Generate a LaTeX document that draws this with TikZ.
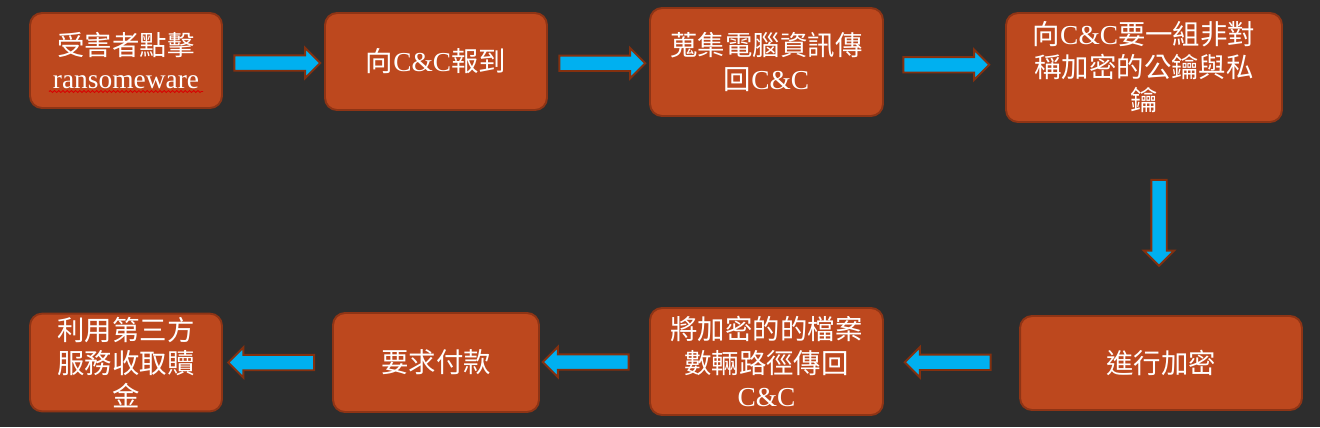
\documentclass[tikz,border=0pt]{standalone}
\usepackage{fontspec}
\setmainfont{Liberation Serif}
\newfontfamily\cjk{Noto Sans CJK TC}
\usepackage{xcolor}
\usepackage{tikz}
\usetikzlibrary{positioning, calc, shapes.arrows, decorations.pathmorphing}

\definecolor{bgdark}{HTML}{2D2D2D}
\definecolor{boxfill}{HTML}{BD481E}
\definecolor{boxline}{HTML}{8E3415}
\definecolor{arrowfill}{HTML}{00B0F0}
\definecolor{arrowline}{HTML}{84300F}

\begin{document}
\begin{tikzpicture}[
        x=0.02cm, y=-0.02cm,
        stepbox/.style={draw=boxline, fill=boxfill, line width=1.1pt, rounded corners=0.24cm, text=white, align=center, inner sep=2pt, font=\fontsize{15.6}{18.8}\selectfont},
        flow/.style={single arrow, draw=arrowline, fill=arrowfill, line width=1.1pt, inner sep=0.135cm, single arrow head extend=0.15cm, minimum height=1.72cm, shape border rotate=#1},
        flow/.default=0,
    ]
    \useasboundingbox (0,0) rectangle (1320,427);
    \fill[bgdark] (0,0) rectangle (1320,427);

    % ---- top row ----
    \node[stepbox, minimum width=3.84cm, minimum height=1.9cm] (click) at (126,60.5) {{\cjk 受害者點擊}\\ransomeware};
    \node[stepbox, minimum width=4.44cm, minimum height=1.94cm] (report) at (436,61.5) {{\cjk 向}C\&C{\cjk 報到}};
    \node[stepbox, minimum width=4.66cm, minimum height=2.16cm] (collect) at (766.5,62) {{\cjk 蒐集電腦資訊傳}\\{\cjk 回}C\&C};
    \node[stepbox, minimum width=5.52cm, minimum height=2.18cm] (keys) at (1144,67.5) {{\cjk 向}C\&C{\cjk 要一組非對}\\{\cjk 稱加密的公鑰與私}\\{\cjk 鑰}};

    % ---- bottom row ----
    \node[stepbox, minimum width=5.64cm, minimum height=1.88cm] (encrypt) at (1161,363) {\cjk 進行加密};
    \node[stepbox, minimum width=4.66cm, minimum height=2.14cm] (paths) at (766.5,361.5) {{\cjk 將加密的的檔案}\\{\cjk 數輛路徑傳回}\\C\&C};
    \node[stepbox, minimum width=4.12cm, minimum height=1.98cm] (pay) at (436,362.5) {\cjk 要求付款};
    \node[stepbox, minimum width=3.84cm, minimum height=1.9cm] (ransom) at (126,362.5) {{\cjk 利用第三方}\\{\cjk 服務收取贖}\\{\cjk 金}};

    % ---- spell-check squiggle ----
    \draw[red!85!black, line width=0.5pt, decorate, decoration={snake, amplitude=0.55pt, segment length=2.4pt}]
        ($(click.center)+(-77,31)$) -- ($(click.center)+(77,31)$);

    % ---- arrows ----
    \node[flow, yshift=-0.04cm] (a1) at ($(click.east)!0.5!(report.west)$) {};
    \node[flow, yshift=-0.03cm] (a2) at ($(report.east)!0.5!(collect.west)$) {};
    \node[flow, xshift=-0.04cm] (a3) at ($(collect.east)!0.5!(keys.west)$) {};
    \node[flow=270, xshift=0.13cm] (a4) at ($(keys.south)!0.5!(encrypt.north)$) {};
    \node[flow=180] (a5) at ($(encrypt.west)!0.5!(paths.east)$) {};
    \node[flow=180, xshift=-0.1cm] (a6) at ($(paths.west)!0.5!(pay.east)$) {};
    \node[flow=180, xshift=-0.05cm] (a7) at ($(pay.west)!0.5!(ransom.east)$) {};
\end{tikzpicture}
\end{document}
